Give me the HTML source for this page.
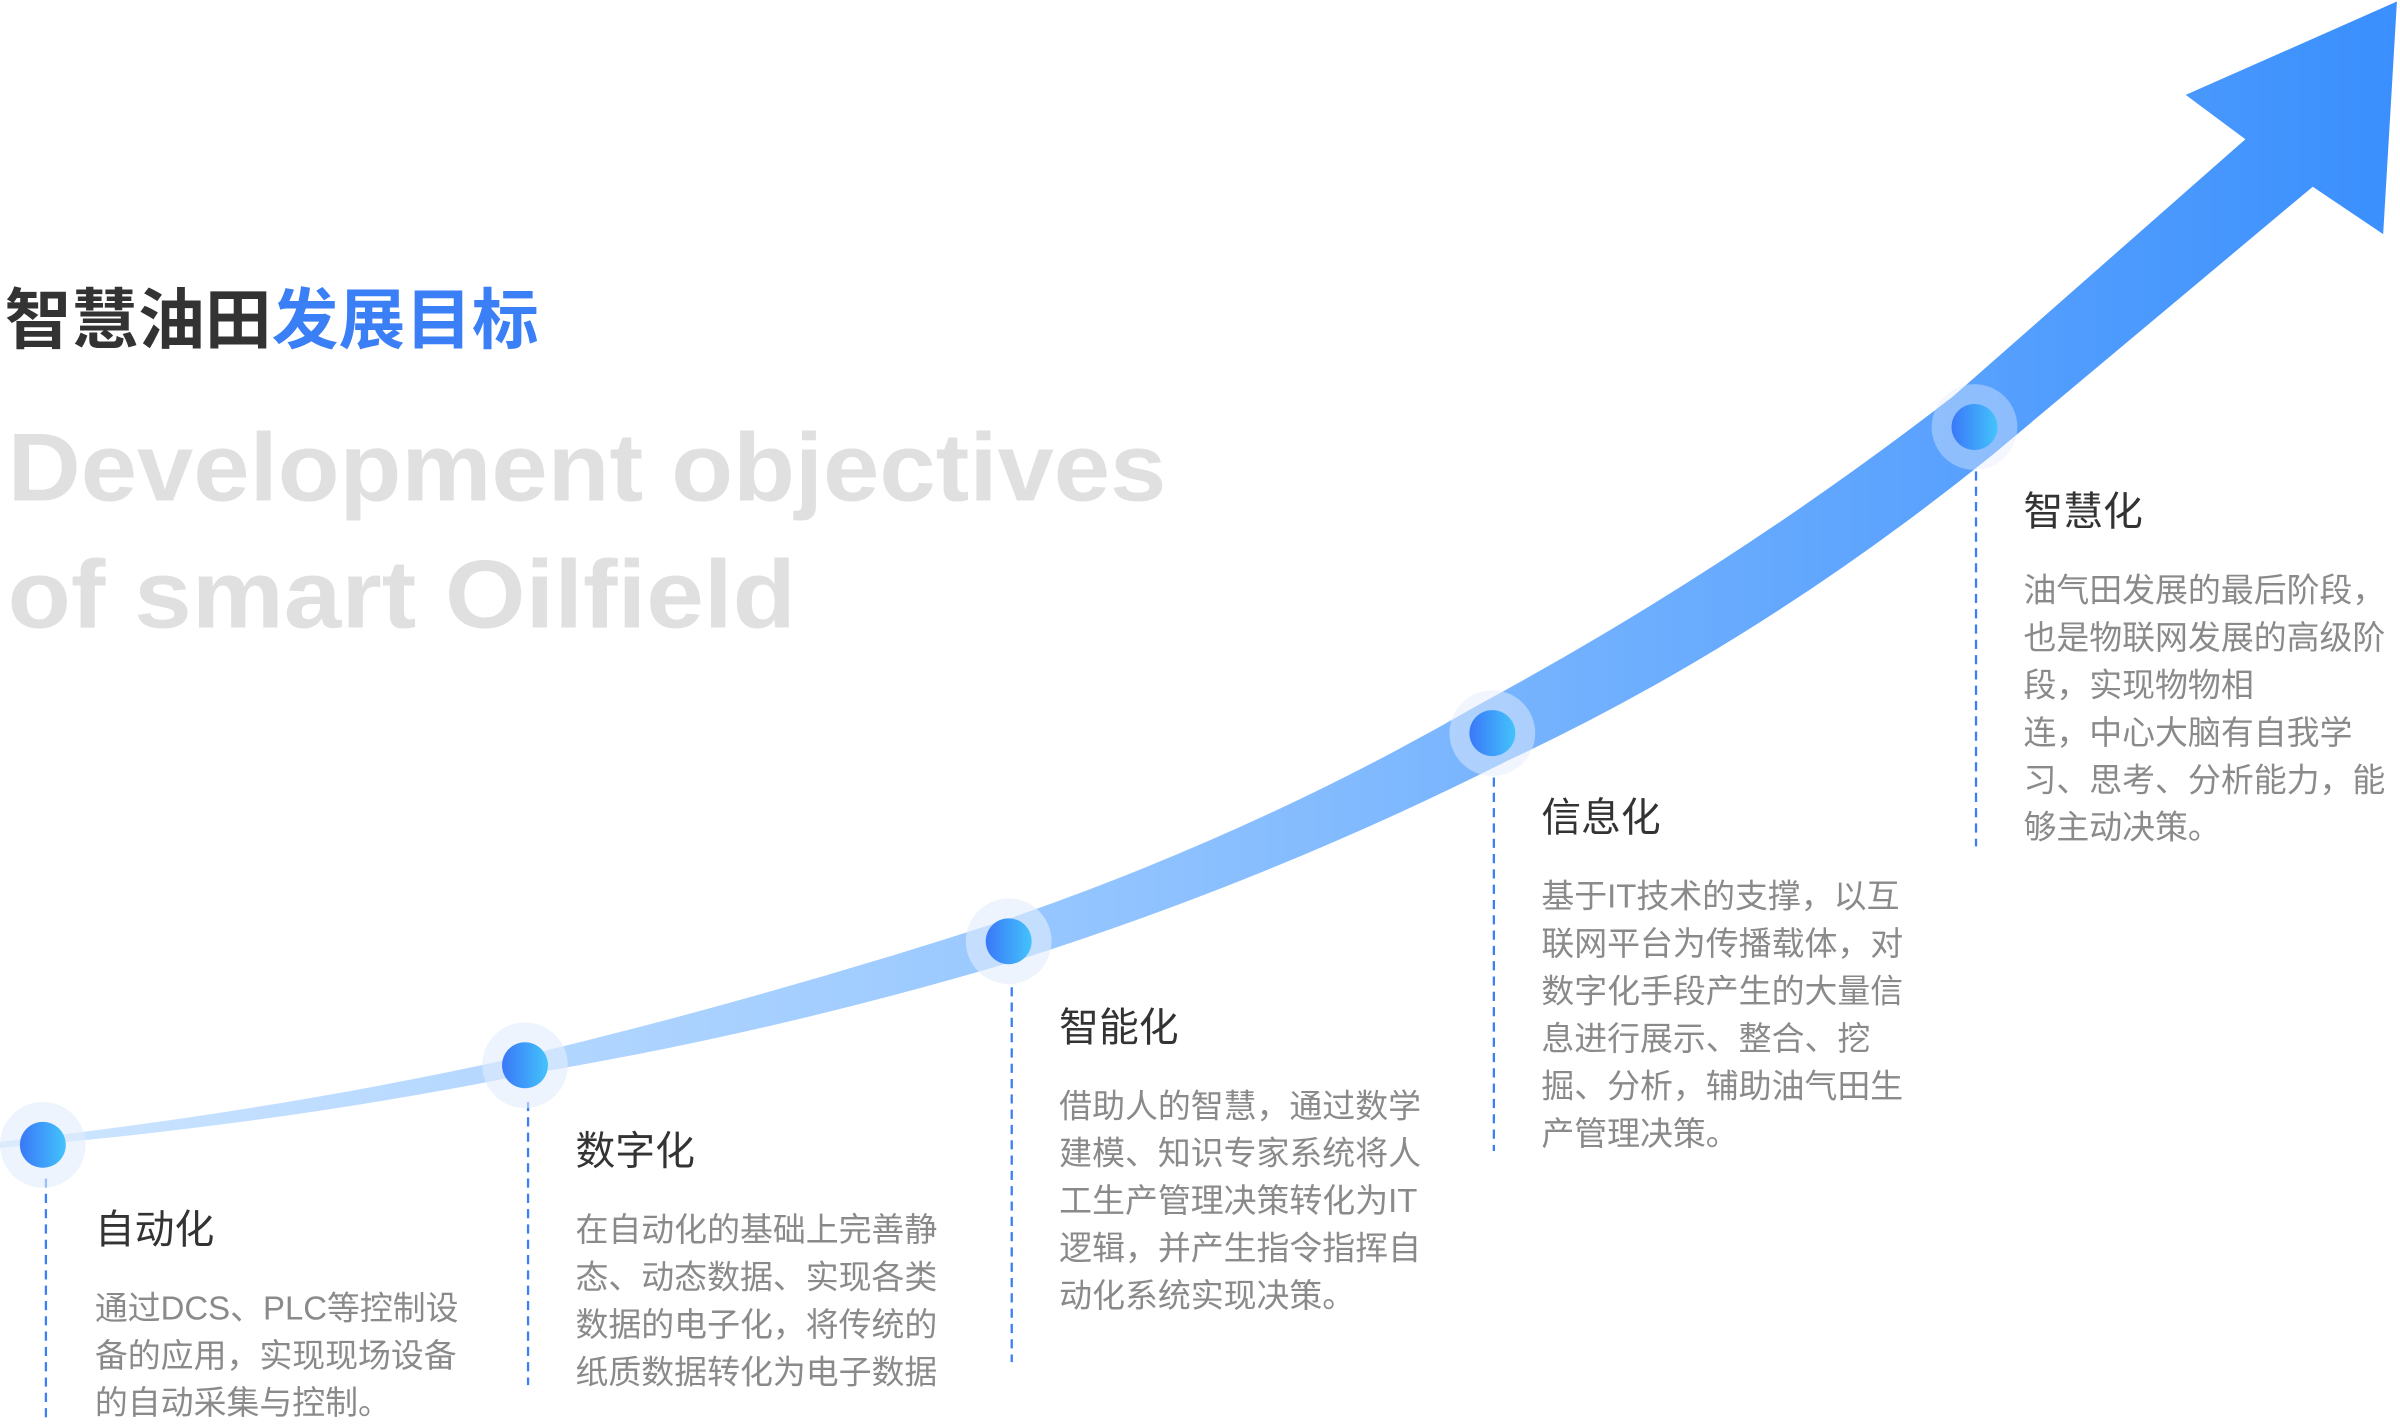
<!DOCTYPE html>
<html><head><meta charset="utf-8"><style>
html,body{margin:0;padding:0;background:#fff;width:2400px;height:1424px;overflow:hidden}
svg{display:block}
.h{font-family:"Liberation Sans","Noto Sans CJK SC",sans-serif;font-size:26px;fill:#333}
.b{font-family:"Liberation Sans","Noto Sans CJK SC",sans-serif;font-size:21.5px;fill:#8a8a8a}
</style></head><body>
<svg width="2400" height="1424" viewBox="0 0 1568 930.4" preserveAspectRatio="none" xmlns="http://www.w3.org/2000/svg">
<defs>
<linearGradient id="sg" x1="0" y1="0" x2="1" y2="0">
<stop offset="0" stop-color="#cfe6ff"/>
<stop offset="0.4" stop-color="#9ccaff"/>
<stop offset="1" stop-color="#3a8ffd"/>
</linearGradient>
<linearGradient id="dg" x1="0" y1="0" x2="1" y2="0">
<stop offset="0" stop-color="#3a78f8"/>
<stop offset="1" stop-color="#43c3fb"/>
</linearGradient>
</defs>
<text x="3" y="224" font-family="Liberation Sans,'Noto Sans CJK SC',sans-serif" font-weight="bold" font-size="43" textLength="349" lengthAdjust="spacingAndGlyphs"><tspan fill="#333">智慧油田</tspan><tspan fill="#3a7ff5">发展目标</tspan></text>
<text x="5" y="327" font-family="Liberation Sans,sans-serif" font-weight="bold" font-size="63" fill="#e0e0e0" textLength="757" lengthAdjust="spacingAndGlyphs">Development objectives</text>
<text x="5" y="410" font-family="Liberation Sans,sans-serif" font-weight="bold" font-size="63" fill="#e0e0e0" textLength="515" lengthAdjust="spacingAndGlyphs">of smart Oilfield</text>

<path fill="url(#sg)" d="M0,746 Q180,726 342,690 Q500,652 654,602 Q820,545 965,461 Q1130,372 1276,259 L1467,91 L1428,62 L1566,1 L1557,153 L1511,122 L1302,297 Q1150,420 985,497 Q830,575 663,628 Q505,675 344,702 Q180,735 0,750 Z"/>

<g stroke="#3a7ff5" stroke-width="1.5" stroke-dasharray="6 4">
<line x1="30" y1="770" x2="30" y2="930"/>
<line x1="345" y1="720" x2="345" y2="905"/>
<line x1="661" y1="645" x2="661" y2="890"/>
<line x1="976" y1="508" x2="976" y2="752"/>
<line x1="1291" y1="308" x2="1291" y2="553"/>
</g>
<g>
<circle cx="28" cy="748" r="28" fill="#e3ecfc" opacity="0.6"/><circle cx="28" cy="748" r="15" fill="url(#dg)"/>
<circle cx="343" cy="696" r="28" fill="#e3ecfc" opacity="0.6"/><circle cx="343" cy="696" r="15" fill="url(#dg)"/>
<circle cx="659" cy="615" r="28" fill="#e3ecfc" opacity="0.6"/><circle cx="659" cy="615" r="15" fill="url(#dg)"/>
<circle cx="975" cy="479" r="28" fill="#e3ecfc" opacity="0.5"/><circle cx="975" cy="479" r="15" fill="url(#dg)"/>
<circle cx="1290" cy="279" r="28" fill="#e3ecfc" opacity="0.4"/><circle cx="1290" cy="279" r="15" fill="url(#dg)"/>
</g>

<text class="h" x="62" y="812">自动化</text>
<text class="b" x="62" y="862">通过DCS、PLC等控制设</text>
<text class="b" x="62" y="893">备的应用，实现现场设备</text>
<text class="b" x="62" y="924">的自动采集与控制。</text>

<text class="h" x="376" y="761">数字化</text>
<text class="b" x="376" y="811">在自动化的基础上完善静</text>
<text class="b" x="376" y="842">态、动态数据、实现各类</text>
<text class="b" x="376" y="873">数据的电子化，将传统的</text>
<text class="b" x="376" y="904">纸质数据转化为电子数据</text>

<text class="h" x="692" y="680">智能化</text>
<text class="b" x="692" y="730">借助人的智慧，通过数学</text>
<text class="b" x="692" y="761">建模、知识专家系统将人</text>
<text class="b" x="692" y="792">工生产管理决策转化为IT</text>
<text class="b" x="692" y="823">逻辑，并产生指令指挥自</text>
<text class="b" x="692" y="854">动化系统实现决策。</text>

<text class="h" x="1007" y="543">信息化</text>
<text class="b" x="1007" y="593">基于IT技术的支撑，以互</text>
<text class="b" x="1007" y="624">联网平台为传播载体，对</text>
<text class="b" x="1007" y="655">数字化手段产生的大量信</text>
<text class="b" x="1007" y="686">息进行展示、整合、挖</text>
<text class="b" x="1007" y="717">掘、分析，辅助油气田生</text>
<text class="b" x="1007" y="748">产管理决策。</text>

<text class="h" x="1322" y="343">智慧化</text>
<text class="b" x="1322" y="393">油气田发展的最后阶段，</text>
<text class="b" x="1322" y="424">也是物联网发展的高级阶</text>
<text class="b" x="1322" y="455">段，实现物物相</text>
<text class="b" x="1322" y="486">连，中心大脑有自我学</text>
<text class="b" x="1322" y="517">习、思考、分析能力，能</text>
<text class="b" x="1322" y="548">够主动决策。</text>
</svg>
</body></html>
